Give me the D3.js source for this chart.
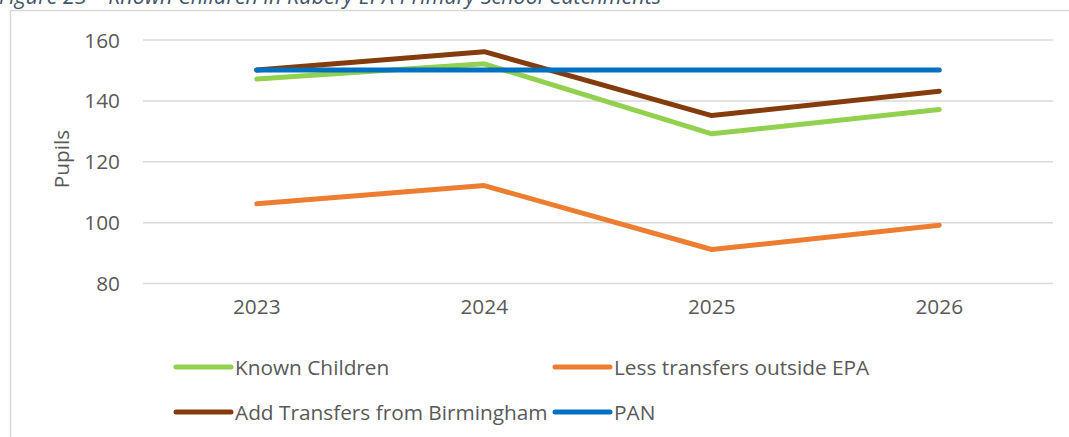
<!DOCTYPE html>
<html><head><meta charset="utf-8">
<script src="https://cdn.jsdelivr.net/npm/d3@7"></script>
<style>
html,body{margin:0;padding:0;background:#fff;overflow:hidden;}
svg{display:block;font-family:"Open Sans",Lato,sans-serif;}
</style></head>
<body>
<svg id="c" width="1069" height="437"></svg>
<script>
const title = "Figure 23 – Known Children in Rubery EPA Primary School Catchments";
const years = ["2023","2024","2025","2026"];
const knownChildren = [147,152,129,137];
const lessTransfers = [106,112,91,99];
const addTransfers = [150,156,135,143];
const pan = [150,150,150,150];
const yTicks = [80,100,120,140,160];
const seriesNames = ["Known Children","Less transfers outside EPA","Add Transfers from Birmingham","PAN"];
const seriesColors = ["#92D050","#ED7D31","#843C0C","#0070C0"];

const series = [
  {name:seriesNames[0], values:knownChildren, color:seriesColors[0]},
  {name:seriesNames[1], values:lessTransfers, color:seriesColors[1]},
  {name:seriesNames[2], values:addTransfers, color:seriesColors[2]},
  {name:seriesNames[3], values:pan, color:seriesColors[3]}
];

const svg = d3.select("#c");
const textColor = "#595959";
const fs = 20.8;

// title (cropped at top)
svg.append("text").attr("x",-1).attr("y",4)
  .attr("font-style","italic").attr("font-size",21.5).attr("fill","#44546A")
  .text(title);

// chart border
svg.append("rect").attr("x",10.5).attr("y",10.5).attr("width",1100).attr("height",500)
  .attr("fill","none").attr("stroke","#D9D9D9").attr("stroke-width",1.5);

const x = d3.scaleBand().domain(years).range([143,1053]);
const y = d3.scaleLinear().domain([80,160]).range([283,39.5]);

// gridlines
const grid = svg.append("g").attr("transform","translate(143,0)")
  .call(d3.axisLeft(y).tickValues(yTicks).tickSize(-910).tickFormat(""));
grid.select(".domain").remove();
grid.selectAll("line").attr("stroke","#D9D9D9").attr("stroke-width",1.5);

// y tick labels
const ya = svg.append("g").attr("transform","translate(143,0)")
  .call(d3.axisLeft(y).tickValues(yTicks).tickSize(0).tickPadding(23));
ya.select(".domain").remove();
ya.selectAll("text").attr("font-size",fs).attr("fill",textColor).attr("font-family","Open Sans").attr("dy","0.36em");

// x tick labels
const xa = svg.append("g").attr("transform","translate(0,283)")
  .call(d3.axisBottom(x).tickSize(0).tickPadding(19));
xa.select(".domain").remove();
xa.selectAll("text").attr("font-size",fs).attr("fill",textColor).attr("font-family","Open Sans").attr("dy","0.6em");

// y axis title
svg.append("text").attr("transform","translate(69,159) rotate(-90)")
  .attr("text-anchor","middle").attr("font-size",fs).attr("fill",textColor)
  .text("Pupils");

// lines
const line = d3.line().x((d,i)=>x(years[i])+x.bandwidth()/2).y(d=>y(d));
svg.append("g").selectAll("path").data(series).join("path")
  .attr("d",d=>line(d.values)).attr("fill","none")
  .attr("stroke",d=>d.color).attr("stroke-width",5)
  .attr("stroke-linecap","round").attr("stroke-linejoin","round");

// legend
const legPos = [[176,367],[555,367],[176,412],[555,412]];
const lg = svg.append("g").selectAll("g").data(series).join("g")
  .attr("transform",(d,i)=>`translate(${legPos[i][0]},${legPos[i][1]})`);
lg.append("line").attr("x1",0).attr("x2",55).attr("y1",0).attr("y2",0)
  .attr("stroke",d=>d.color).attr("stroke-width",5).attr("stroke-linecap","round");
lg.append("text").attr("x",59).attr("y",0).attr("dy","0.36em")
  .attr("font-size",fs).attr("fill",textColor).text(d=>d.name);
</script>
</body></html>
